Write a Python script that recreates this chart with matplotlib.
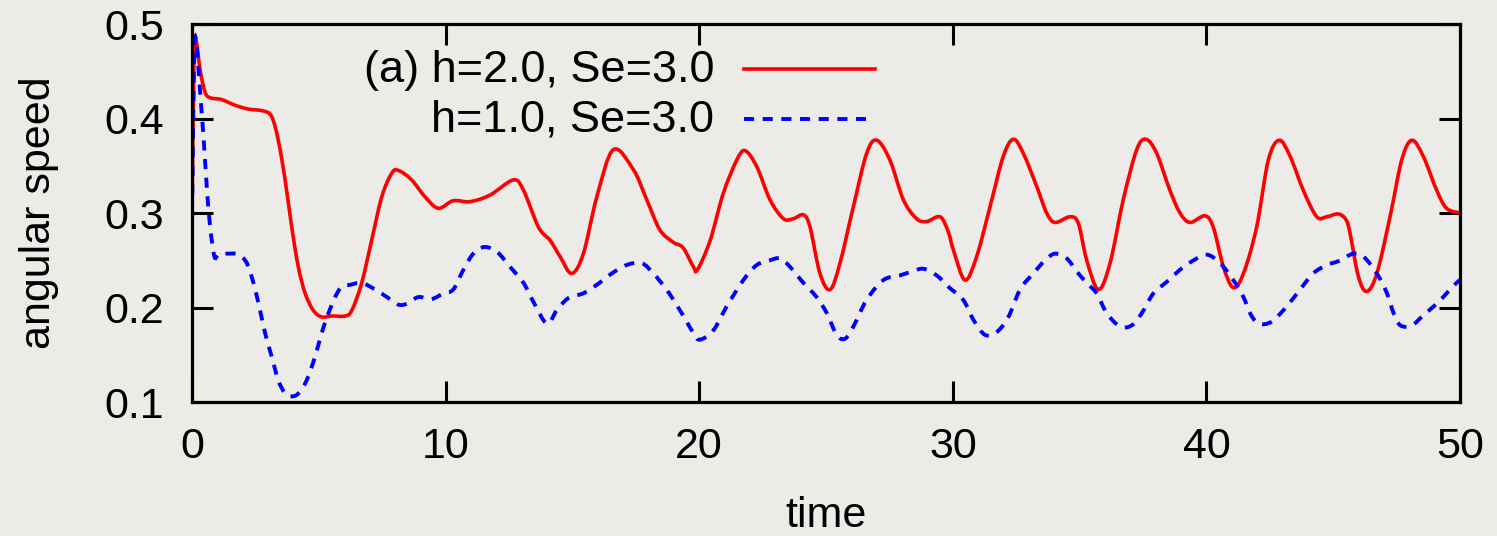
import matplotlib
matplotlib.use("Agg")
import matplotlib.pyplot as plt
from matplotlib.path import Path
from matplotlib.patches import PathPatch
import numpy as np

plt.rcParams['font.family'] = ['Liberation Sans', 'DejaVu Sans']

# ---- data ----
t_h2 = [0.0, 0.08, 0.15, 0.32, 0.51, 0.71, 1.17, 1.70, 2.22, 2.81, 3.14, 3.40, 3.67, 3.93,
        4.19, 4.46, 4.78, 5.11, 5.51, 6.03, 6.30, 6.69, 7.08, 7.48, 7.87, 8.14, 8.66, 9.19,
        9.71, 10.30, 10.96, 11.75, 12.67, 13.07, 13.66, 14.12, 14.51, 14.97, 15.43, 15.96,
        16.61, 17.40, 17.93, 18.45, 18.98, 19.37, 19.77, 19.93, 20.43, 20.95, 21.48, 21.81,
        22.27, 22.79, 23.32, 23.71, 24.11, 24.37, 24.76, 25.16, 25.55, 26.08, 26.60, 27.00,
        27.52, 28.05, 28.57, 28.97, 29.50, 29.82, 30.02, 30.48, 30.94, 31.47, 31.99, 32.39,
        32.78, 33.31, 33.70, 34.03, 34.62, 34.95, 35.28, 35.74, 36.20, 36.72, 37.25, 37.62,
        38.04, 38.56, 38.96, 39.35, 39.94, 40.27, 40.67, 41.06, 41.46, 41.98, 42.44, 42.87,
        43.30, 43.82, 44.35, 44.74, 45.20, 45.50, 45.66, 45.99, 46.32, 46.72, 47.24, 47.70,
        48.10, 48.55, 49.08, 49.47, 50.0]
v_h2 = [0.300, 0.470, 0.484, 0.451, 0.428, 0.422, 0.420, 0.414, 0.410, 0.408, 0.402, 0.377,
        0.335, 0.285, 0.243, 0.215, 0.197, 0.190, 0.191, 0.191, 0.197, 0.226, 0.271, 0.317,
        0.342, 0.345, 0.335, 0.317, 0.305, 0.313, 0.312, 0.319, 0.335, 0.324, 0.285, 0.271,
        0.254, 0.236, 0.257, 0.317, 0.367, 0.346, 0.314, 0.282, 0.269, 0.263, 0.243, 0.240,
        0.271, 0.321, 0.356, 0.366, 0.349, 0.314, 0.294, 0.294, 0.298, 0.285, 0.236, 0.219,
        0.247, 0.307, 0.363, 0.377, 0.356, 0.314, 0.294, 0.291, 0.296, 0.280, 0.261, 0.229,
        0.254, 0.307, 0.360, 0.378, 0.363, 0.328, 0.300, 0.290, 0.296, 0.289, 0.250, 0.219,
        0.247, 0.314, 0.367, 0.378, 0.363, 0.324, 0.300, 0.290, 0.297, 0.285, 0.243, 0.221,
        0.236, 0.285, 0.356, 0.377, 0.360, 0.324, 0.296, 0.296, 0.299, 0.293, 0.279, 0.233,
        0.217, 0.236, 0.296, 0.356, 0.377, 0.360, 0.324, 0.305, 0.300]

t_h1 = [0.0, 0.08, 0.16, 0.32, 0.45, 0.58, 0.71, 0.88, 1.04, 1.43, 1.83, 2.16, 2.42, 2.68,
        2.88, 3.14, 3.40, 3.67, 3.93, 4.19, 4.52, 4.85, 5.11, 5.38, 5.64, 5.90, 6.23, 6.69,
        7.22, 7.74, 8.14, 8.47, 8.92, 9.45, 9.91, 10.30, 10.70, 11.09, 11.52, 12.02, 12.54,
        13.07, 13.46, 13.99, 14.38, 14.84, 15.43, 15.96, 16.55, 17.14, 17.73, 18.19, 18.71,
        19.24, 19.77, 20.03, 20.56, 21.08, 21.74, 22.27, 22.79, 23.19, 23.58, 24.11, 24.63,
        25.03, 25.42, 25.75, 26.08, 26.60, 27.26, 27.92, 28.38, 28.84, 29.36, 29.82, 30.41,
        30.81, 31.27, 31.73, 32.19, 32.65, 33.17, 33.64, 34.03, 34.49, 34.89, 35.28, 35.67,
        36.07, 36.59, 37.05, 37.45, 37.91, 38.43, 38.96, 39.50, 40.01, 40.54, 41.06, 41.46,
        41.72, 42.05, 42.57, 43.16, 43.69, 44.21, 44.74, 45.20, 45.79, 46.19, 46.72, 47.12,
        47.38, 47.65, 48.10, 48.56, 49.08, 49.47, 49.86, 50.0]
v_h1 = [0.300, 0.460, 0.483, 0.427, 0.381, 0.328, 0.286, 0.254, 0.256, 0.257, 0.256, 0.247,
        0.226, 0.197, 0.173, 0.148, 0.123, 0.109, 0.106, 0.109, 0.123, 0.148, 0.173, 0.194,
        0.211, 0.222, 0.224, 0.226, 0.219, 0.210, 0.203, 0.204, 0.211, 0.209, 0.215, 0.219,
        0.240, 0.257, 0.264, 0.259, 0.243, 0.226, 0.206, 0.183, 0.197, 0.210, 0.215, 0.224,
        0.236, 0.245, 0.247, 0.236, 0.219, 0.197, 0.173, 0.166, 0.176, 0.201, 0.229, 0.245,
        0.250, 0.252, 0.243, 0.226, 0.211, 0.194, 0.171, 0.167, 0.180, 0.208, 0.229, 0.234,
        0.238, 0.241, 0.234, 0.222, 0.208, 0.187, 0.171, 0.174, 0.190, 0.219, 0.236, 0.250,
        0.257, 0.252, 0.238, 0.226, 0.215, 0.194, 0.180, 0.181, 0.194, 0.215, 0.227, 0.240,
        0.250, 0.256, 0.247, 0.229, 0.211, 0.194, 0.183, 0.185, 0.201, 0.219, 0.236, 0.245,
        0.249, 0.257, 0.254, 0.236, 0.215, 0.194, 0.181, 0.181, 0.192, 0.204, 0.215, 0.226,
        0.229]

label_h2 = "(a) h=2.0, Se=3.0"
label_h1 = "h=1.0, Se=3.0"
x_ticks = [0, 10, 20, 30, 40, 50]
y_ticks = [0.1, 0.2, 0.3, 0.4, 0.5]
y_tick_labels = ["0.1", "0.2", "0.3", "0.4", "0.5"]


def smooth_path(xs, ys):
    """Path through the read points, drawn with cubic Bezier segments
    (Catmull-Rom style tangents) so the line renders smoothly."""
    p = np.column_stack([xs, ys]).astype(float)
    n = len(p)
    verts = [p[0]]
    codes = [Path.MOVETO]
    for i in range(n - 1):
        p0 = p[i - 1] if i > 0 else p[i]
        p1 = p[i]
        p2 = p[i + 1]
        p3 = p[i + 2] if i + 2 < n else p[i + 1]
        c1 = p1 + (p2 - p0) / 6.0
        c2 = p2 - (p3 - p1) / 6.0
        verts += [c1, c2, p2]
        codes += [Path.CURVE4] * 3
    return Path(verts, codes)


# ---- figure ----
bg = '#ecebe8'
fig = plt.figure(figsize=(14.97, 5.36), dpi=100, facecolor=bg)
ax = fig.add_axes([0.1283, 0.25, 0.8470, 0.7052])
ax.set_facecolor(bg)

red = '#ff0000'
blue = '#0000ff'
lw_red = 2.6
lw_blue = 2.8
dash_blue = (0, (2.6, 2.2))

ax.add_patch(PathPatch(smooth_path(t_h2, v_h2), fill=False, edgecolor=red,
                       lw=lw_red, joinstyle='round', capstyle='butt', zorder=3))
ax.add_patch(PathPatch(smooth_path(t_h1, v_h1), fill=False, edgecolor=blue,
                       lw=lw_blue, linestyle=dash_blue, capstyle='butt', zorder=3))

ax.set_xlim(0, 50)
ax.set_ylim(0.1, 0.5)
ax.set_xticks(x_ticks)
ax.set_yticks(y_ticks)
ax.set_yticklabels(y_tick_labels)

for s in ax.spines.values():
    s.set_linewidth(2.3)
    s.set_color('black')
    s.set_zorder(4)

ax.tick_params(which='both', direction='in', length=15, width=2.2,
               top=True, right=True, labelsize=31, colors='black')
ax.tick_params(axis='x', pad=18)
ax.tick_params(axis='y', pad=20)

ax.set_xlabel('time', fontsize=31, labelpad=21)
ax.set_ylabel('angular speed', fontsize=31, labelpad=33)

# gnuplot-style key: right-aligned text followed by line sample
ax.text(0.4117, 0.878, label_h2, transform=ax.transAxes, fontsize=32.5,
        ha='right', va='center')
ax.text(0.4117, 0.746, label_h1, transform=ax.transAxes, fontsize=32.5,
        ha='right', va='center')
ax.plot([0.4353, 0.5386], [0.881, 0.881], transform=ax.transAxes,
        color=red, lw=lw_red, clip_on=False)
ax.plot([0.4353, 0.5315], [0.749, 0.749], transform=ax.transAxes,
        color=blue, lw=lw_blue, linestyle=dash_blue, clip_on=False)

fig.savefig('out.png', dpi=100, facecolor=bg)
